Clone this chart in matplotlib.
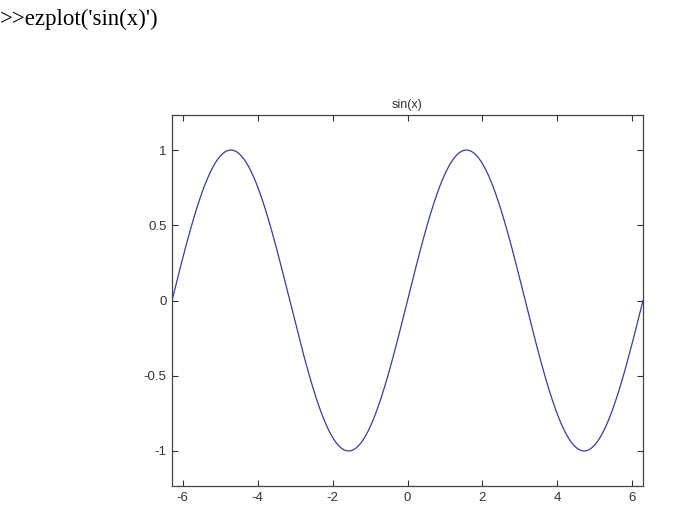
import numpy as np
import matplotlib
matplotlib.use("Agg")
import matplotlib.pyplot as plt

# ezplot('sin(x)') -- expression, default domain [-2*pi, 2*pi]
EXPRESSION = "sin(x)"
X_RANGE = [-2 * np.pi, 2 * np.pi]
N_POINTS = 400
X_TICKS = [-6, -4, -2, 0, 2, 4, 6]
Y_TICKS = [-1, -0.5, 0, 0.5, 1]
Y_TICK_LABELS = ["-1", "-0.5", "0", "0.5", "1"]
Y_RANGE = [-1.233, 1.233]

x = np.linspace(X_RANGE[0], X_RANGE[1], N_POINTS)
y = np.sin(x)

fig = plt.figure(figsize=(6.73, 5.08), dpi=100)
fig.text(0.0, 0.982, ">>ezplot('sin(x)')", ha='left', va='top',
         fontsize=16.5, family='Liberation Serif')

ax = fig.add_axes([0.2556, 0.0433, 0.6998, 0.7303])
ax.plot(x, y, color='#3a3aa2', linewidth=0.9)
ax.set_xlim(X_RANGE)
ax.set_ylim(Y_RANGE)
ax.set_xticks(X_TICKS)
ax.set_xticklabels([str(t) for t in X_TICKS])
ax.set_yticks(Y_TICKS)
ax.set_yticklabels(Y_TICK_LABELS)
ax.tick_params(direction='in', top=True, right=True, length=4, width=0.8,
               labelsize=9.5, colors='#333333', pad=4)
for lbl in ax.get_xticklabels() + ax.get_yticklabels():
    lbl.set_family('Liberation Sans')
for s in ax.spines.values():
    s.set_color('#444444')
    s.set_linewidth(0.9)
ax.set_title(EXPRESSION, fontsize=9, family='Liberation Sans', color='#333333', pad=5)

plt.savefig('out.png', dpi=100)
